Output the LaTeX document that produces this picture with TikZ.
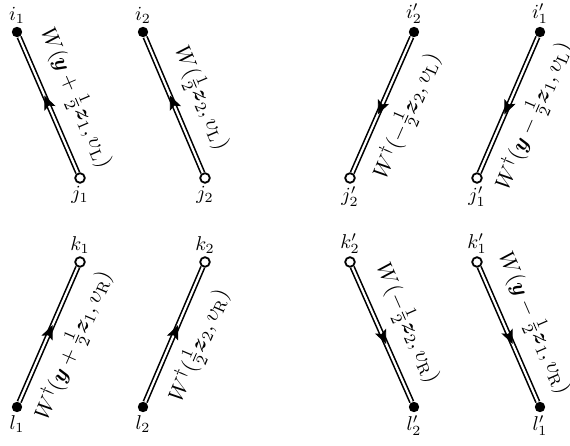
\documentclass[tikz,border=0pt]{standalone}
\usepackage{amsmath,amssymb}
\usetikzlibrary{decorations.markings,arrows.meta}
\begin{document}
\begin{tikzpicture}[x=0.5pt,y=-0.5pt,
 fdot/.style={circle,fill=black,inner sep=0pt,minimum size=5.2pt},
 hdot/.style={circle,draw=black,fill=white,line width=0.9pt,inner sep=0pt,minimum size=4.8pt},
 wline/.style={draw,double,double distance=1.1pt,line width=0.8pt},
 midarrow/.style={decoration={markings,mark=at position 0.57 with {\arrow{Stealth[length=7pt,width=6pt,inset=1.5pt]}}},postaction={decorate}},
 lab/.style={sloped,midway,font=\fontsize{10.8}{13}\selectfont},
 every label/.style={label distance=-2pt}
]
\useasboundingbox (0,0) rectangle (570,446);
% top row
\node[fdot,label={above:$i_1$}] (i1) at (17,32) {};
\node[hdot,label={below:$j_1$}] (j1) at (80,178) {};
\node[fdot,label={above:$i_2$}] (i2) at (143,32) {};
\node[hdot,label={below:$j_2$}] (j2) at (205,178) {};
\node[fdot,label={above:$i_2'$}] (i2p) at (414,32) {};
\node[hdot,label={below:$j_2'$}] (j2p) at (350,178) {};
\node[fdot,label={above:$i_1'$}] (i1p) at (540,32) {};
\node[hdot,label={below:$j_1'$}] (j1p) at (477,178) {};
% bottom row
\node[hdot,label={above:$k_1$}] (k1) at (80,262) {};
\node[fdot,label={below:$l_1$}] (l1) at (17,407) {};
\node[hdot,label={above:$k_2$}] (k2) at (205,262) {};
\node[fdot,label={below:$l_2$}] (l2) at (143,407) {};
\node[hdot,label={above:$k_2'$}] (k2p) at (350,262) {};
\node[fdot,label={below:$l_2'$}] (l2p) at (414,407) {};
\node[hdot,label={above:$k_1'$}] (k1p) at (477,262) {};
\node[fdot,label={below:$l_1'$}] (l1p) at (540,407) {};
% lines with labels
\draw[wline] (i1) -- (j1) node[lab,above=3.5pt,pos=0.53] {$W(\boldsymbol{y}+\frac12\boldsymbol{z}_1,\upsilon_{\mathrm L})$};
\draw[wline] (i2) -- (j2) node[lab,above=3.5pt,pos=0.53] {$W(\frac12\boldsymbol{z}_2,\upsilon_{\mathrm L})$};
\draw[wline] (j2p) -- (i2p) node[lab,below=3.5pt,pos=0.5] {$W^\dagger(-\frac12\boldsymbol{z}_2,\upsilon_{\mathrm L})$};
\draw[wline] (j1p) -- (i1p) node[lab,below=3.5pt,pos=0.5] {$W^\dagger(\boldsymbol{y}-\frac12\boldsymbol{z}_1,\upsilon_{\mathrm L})$};
\draw[wline] (l1) -- (k1) node[lab,below=3.5pt,pos=0.5] {$W^\dagger(\boldsymbol{y}+\frac12\boldsymbol{z}_1,\upsilon_{\mathrm R})$};
\draw[wline] (l2) -- (k2) node[lab,below=3.5pt,pos=0.5] {$W^\dagger(\frac12\boldsymbol{z}_2,\upsilon_{\mathrm R})$};
\draw[wline] (k2p) -- (l2p) node[lab,above=3.5pt,pos=0.5] {$W(-\frac12\boldsymbol{z}_2,\upsilon_{\mathrm R})$};
\draw[wline] (k1p) -- (l1p) node[lab,above=3.5pt,pos=0.5] {$W(\boldsymbol{y}-\frac12\boldsymbol{z}_1,\upsilon_{\mathrm R})$};
% arrows
\path[midarrow] (j1) -- (i1);
\path[midarrow] (j2) -- (i2);
\path[midarrow] (i2p) -- (j2p);
\path[midarrow] (i1p) -- (j1p);
\path[midarrow] (l1) -- (k1);
\path[midarrow] (l2) -- (k2);
\path[midarrow] (k2p) -- (l2p);
\path[midarrow] (k1p) -- (l1p);
\end{tikzpicture}
\end{document}
